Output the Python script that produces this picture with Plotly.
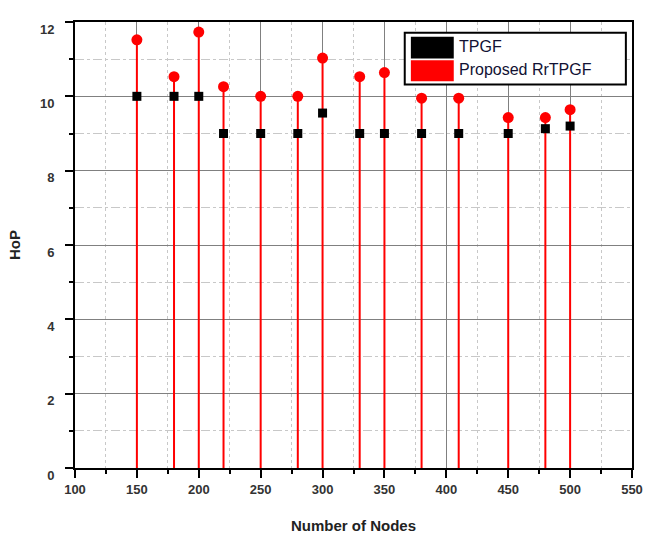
import plotly.graph_objects as go

nodes = [150, 180, 200, 220, 250, 280, 300, 330, 350, 380, 410, 450, 480, 500]
tpgf = [10, 10, 10, 9, 9, 9, 9.55, 9, 9, 9, 9, 9, 9.13, 9.2]
rrtpgf = [11.52, 10.53, 11.73, 10.26, 10.0, 10.0, 11.03, 10.53, 10.64, 9.95, 9.95, 9.43, 9.43, 9.64]
x_ticks = list(range(100, 551, 50))
y_ticks = list(range(0, 13, 2))
series_names = ["TPGF", "Proposed RrTPGF"]

stem_x, stem_y = [], []
for xv, yv in zip(nodes, rrtpgf):
    stem_x += [xv, xv, None]
    stem_y += [0, yv, None]

fig = go.Figure()
fig.add_trace(go.Scatter(x=stem_x, y=stem_y, mode="lines",
                         line=dict(color="#ff0000", width=2), showlegend=False, hoverinfo="skip"))
fig.add_trace(go.Scatter(x=nodes, y=rrtpgf, mode="markers", name=series_names[1],
                         marker=dict(symbol="circle", size=11, color="#ff0000"), showlegend=False))
fig.add_trace(go.Scatter(x=nodes, y=tpgf, mode="markers", name=series_names[0],
                         marker=dict(symbol="square", size=9, color="#000000"), showlegend=False))

tick_font = dict(family="Liberation Sans, Arial", size=13, color="#333333", weight="bold")
title_font = dict(family="Liberation Sans, Arial", size=15, color="#222222")
fig.update_xaxes(range=[100, 550], tickvals=x_ticks, ticks="outside", ticklen=8, tickwidth=2,
                 tickcolor="black", showline=True, linecolor="black", linewidth=2, mirror=True,
                 showgrid=True, gridcolor="#808080", gridwidth=1, zeroline=False, automargin=False,
                 minor=dict(dtick=25, ticks="outside", ticklen=4, tickwidth=2, tickcolor="black",
                            showgrid=True, gridcolor="#c8c8c8", griddash="dot", gridwidth=1),
                 tickfont=tick_font,
                 title=dict(text="<b>Number of Nodes</b>", font=title_font, standoff=25))
fig.update_yaxes(range=[0, 12], tickvals=y_ticks, ticks="outside", ticklen=8, tickwidth=2,
                 tickcolor="black", showline=True, linecolor="black", linewidth=2, mirror=True,
                 showgrid=True, gridcolor="#808080", gridwidth=1, zeroline=False, automargin=False,
                 ticklabelstandoff=8, ticklabelshift=7,
                 minor=dict(dtick=1, ticks="outside", ticklen=4, tickwidth=2, tickcolor="black",
                            showgrid=True, gridcolor="#c8c8c8", griddash="dashdot", gridwidth=1),
                 tickfont=tick_font,
                 title=dict(text="<b>HoP</b>", font=title_font, standoff=16))

# legend drawn as shapes + annotations
fig.add_shape(type="rect", xref="paper", yref="paper", x0=0.592, x1=0.989, y0=0.860, y1=0.976,
              line=dict(color="black", width=2), fillcolor="white", layer="above")
fig.add_shape(type="rect", xref="paper", yref="paper", x0=0.603, x1=0.680, y0=0.918, y1=0.967,
              line=dict(width=0), fillcolor="#000000", layer="above")
fig.add_shape(type="rect", xref="paper", yref="paper", x0=0.603, x1=0.680, y0=0.867, y1=0.914,
              line=dict(width=0), fillcolor="#ff0000", layer="above")
fig.add_annotation(xref="paper", yref="paper", x=0.686, y=0.945, text=series_names[0], showarrow=False,
                   xanchor="left", yanchor="middle", font=dict(family="Liberation Sans, Arial", size=16, color="#111133"))
fig.add_annotation(xref="paper", yref="paper", x=0.686, y=0.893, text=series_names[1], showarrow=False,
                   xanchor="left", yanchor="middle", font=dict(family="Liberation Sans, Arial", size=16, color="#111133"))

fig.update_layout(width=647, height=539, margin=dict(l=75, r=15, t=22, b=71),
                  plot_bgcolor="white", paper_bgcolor="white", showlegend=False)
fig.write_html("out.html")
